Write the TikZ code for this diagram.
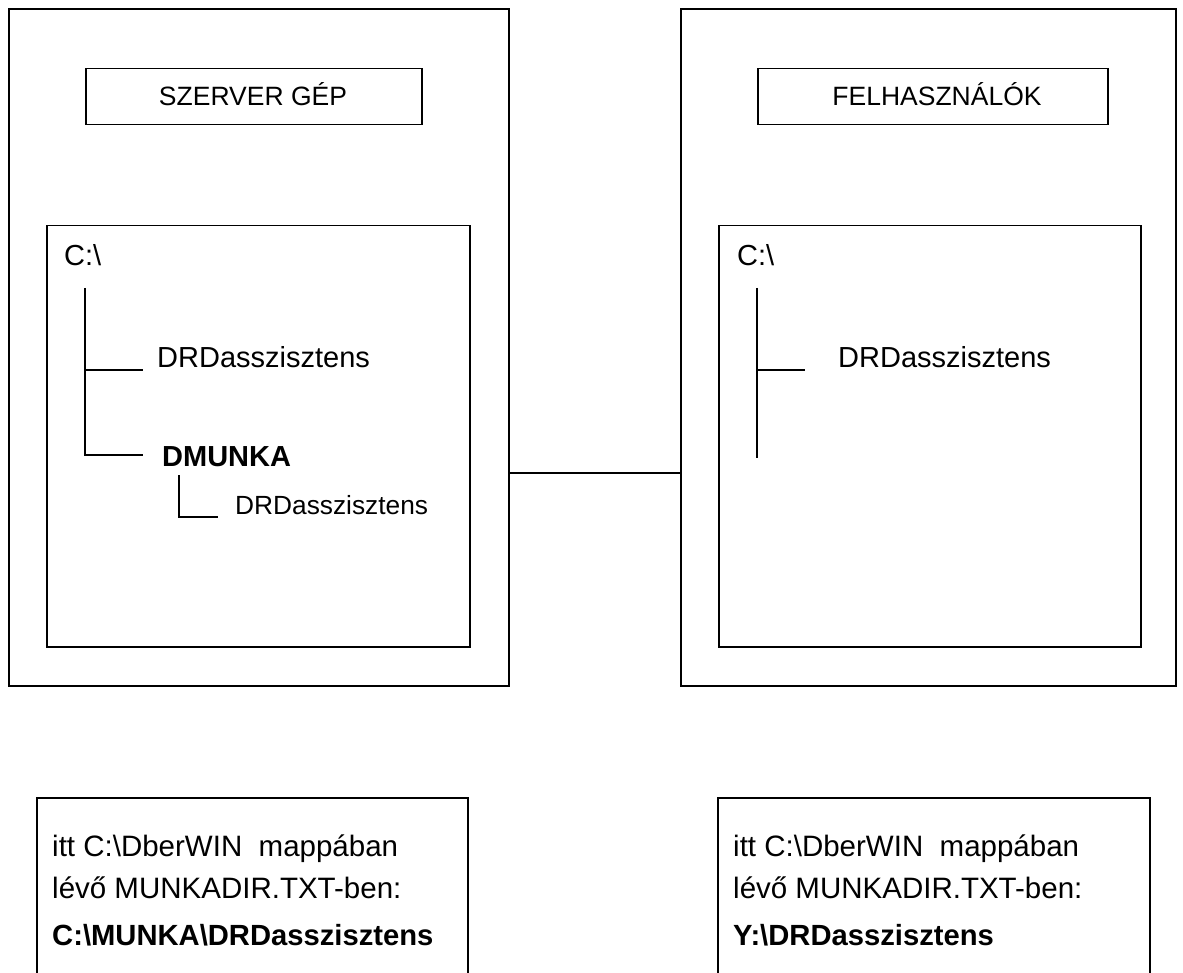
\documentclass[tikz,border=0pt]{standalone}
\usepackage{fontspec}
\setmainfont{Liberation Sans}
\begin{document}
\begin{tikzpicture}[x=1pt,y=-1pt,
  line/.style={line width=1.5pt,black},
  outerbox/.style={draw,line width=2pt,inner sep=0pt,anchor=north west},
  framebox/.style={draw,line width=1.5pt,inner sep=0pt,anchor=north west},
  boxlabel/.style={font=\fontsize{26.5}{30}\selectfont,anchor=base,inner sep=0pt},
  treelabel/.style={font=\fontsize{29}{33}\selectfont,anchor=base west,inner sep=0pt},
  treebold/.style={font=\fontsize{29}{33}\selectfont\bfseries,anchor=base west,inner sep=0pt},
  subtreelabel/.style={font=\fontsize{26.3}{30}\selectfont,anchor=base west,inner sep=0pt},
  notelabel/.style={font=\fontsize{29.5}{33}\selectfont,anchor=base west,inner sep=0pt},
  notebold/.style={font=\fontsize{29.2}{33}\selectfont\bfseries,anchor=base west,inner sep=0pt}]
\useasboundingbox (0,0) rectangle (1183,973);
\fill[white] (0,0) rectangle (1183,973);

% outer boxes
\node[outerbox,minimum width=500pt,minimum height=677pt] (L) at (8,8) {};
\node[outerbox,minimum width=495pt,minimum height=677pt] (R) at (680,8) {};

% title boxes
\node[framebox,minimum width=336pt,minimum height=56pt] (Lt) at (85,68) {};
\node[boxlabel] (LtT) at (253,106) {SZERVER GÉP};
\node[framebox,minimum width=350pt,minimum height=56pt] (Rt) at (757,68) {};
\node[boxlabel] (RtT) at (937,106) {FELHASZNÁLÓK};

% inner boxes
\node[framebox,minimum width=423pt,minimum height=421pt] (Li) at (46,225) {};
\node[framebox,minimum width=422pt,minimum height=421pt] (Ri) at (718,225) {};

% connector
\coordinate (conn) at (0,473);
\draw[line] (L.east |- conn) -- (R.west |- conn);

% left tree
\node[treelabel] (LC) at (64,266) {C:\textbackslash};
\coordinate (Lv1) at (85,288);
\coordinate (Lb1) at (85,370);
\coordinate (Lb2) at (85,455);
\coordinate (Lh1) at (143,370);
\coordinate (Lh2) at (143,455);
\draw[line] (Lv1) -- (Lb2) -- (Lh2);
\draw[line] (Lb1) -- (Lh1);
\node[treelabel] (LD1) at (157,367) {DRDasszisztens};
\node[treebold] (LDM) at (162,466) {DMUNKA};
\coordinate (Ls1) at (179,475);
\coordinate (Ls2) at (179,517);
\coordinate (Ls3) at (218,517);
\draw[line] (Ls1) -- (Ls2) -- (Ls3);
\node[subtreelabel] (LD2) at (235,514) {DRDasszisztens};

% right tree
\node[treelabel] (RC) at (737,266) {C:\textbackslash};
\coordinate (Rv1) at (757,288);
\coordinate (Rv2) at (757,458);
\coordinate (Rb1) at (757,370);
\coordinate (Rh1) at (805,370);
\draw[line] (Rv1) -- (Rv2);
\draw[line] (Rb1) -- (Rh1);
\node[treelabel] (RD1) at (838,367) {DRDasszisztens};

% bottom note boxes (open at bottom)
\coordinate (Nl1) at (37,973);
\coordinate (Nl2) at (37,798);
\coordinate (Nl3) at (468,798);
\coordinate (Nl4) at (468,973);
\draw[line] (Nl1) -- (Nl2) -- (Nl3) -- (Nl4);
\node[notelabel] (NlA) at (52,856) {itt C:\textbackslash DberWIN\ \ mappában};
\node[notelabel] (NlB) at (52,898) {lévő MUNKADIR.TXT-ben:};
\node[notebold] (NlC) at (52,945) {C:\textbackslash MUNKA\textbackslash DRDasszisztens};

\coordinate (Nr1) at (718,973);
\coordinate (Nr2) at (718,798);
\coordinate (Nr3) at (1150,798);
\coordinate (Nr4) at (1150,973);
\draw[line] (Nr1) -- (Nr2) -- (Nr3) -- (Nr4);
\node[notelabel] (NrA) at (733,856) {itt C:\textbackslash DberWIN\ \ mappában};
\node[notelabel] (NrB) at (733,898) {lévő MUNKADIR.TXT-ben:};
\node[notebold] (NrC) at (733,945) {Y:\textbackslash DRDasszisztens};
\end{tikzpicture}
\end{document}
